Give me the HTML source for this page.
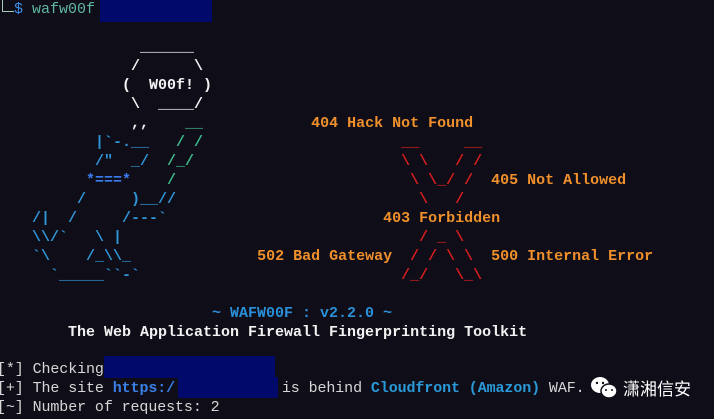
<!DOCTYPE html>
<html><head><meta charset="utf-8"><style>
html,body{margin:0;padding:0;background:#0f0d17;width:714px;height:419px;overflow:hidden;position:relative}
.t{position:absolute;white-space:pre;font-family:"Liberation Mono","DejaVu Sans Mono",monospace;font-size:15px;line-height:19px;font-weight:bold;margin:0}
.b{color:#2f95d6}.g{color:#3fb88a}.s{color:#3b7cf0}.w{color:#f2f2f2}.r{color:#d81e1e}.o{color:#f0902c}
.n{font-weight:normal;color:#d6d6d6}
.rect{position:absolute;background:#010a6a}
</style></head><body>
<div class="rect" style="left:100px;top:0;width:112px;height:22px"></div>
<div style="position:absolute;left:2px;top:0;width:1px;height:11px;background:#a8c8b8"></div>
<div style="position:absolute;left:2px;top:11px;width:12px;height:1px;background:#a8c8b8"></div>
<div class="t" style="left:14px;top:0px;color:#3b8eea;font-weight:normal">$ <span style="color:#5fb8a0">wafw00f</span></div>
<pre class="t" style="left:5px;top:38px"><span class="w">               ______
              /      \
             (  W00f! )
              \  ____/
              ,,    </span><span class="g">__</span>            <span class="o">404 Hack Not Found</span>
<span class="b">          |`-.__   </span><span class="g">/ /</span>                      <span class="r">__     __</span>
<span class="b">          /"  _/  </span><span class="g">/_/</span>                       <span class="r">\ \   / /</span>
<span class="s">         *===*</span>    <span class="g">/</span>                          <span class="r">\ \_/ /</span>  <span class="o">405 Not Allowed</span>
<span class="b">        /     )__//</span>                           <span class="r">\   /</span>
<span class="b">   /|  /     /---`</span>                        <span class="o">403 Forbidden</span>
<span class="b">   \\/`   \ |</span>                                 <span class="r">/ _ \</span>
<span class="b">   `\    /_\\_</span>              <span class="o">502 Bad Gateway</span>  <span class="r">/ / \ \</span>  <span class="o">500 Internal Error</span>
<span class="b">     `_____``-`</span>                             <span class="r">/_/   \_\</span>

<span style="color:#2a8fd8">                       ~ WAFW00F : v2.2.0 ~</span>
<span class="w">       The Web Application Firewall Fingerprinting Toolkit</span></pre>
<pre class="t n" style="left:-3px;top:360px;letter-spacing:-0.1px">[*] Checking
[+] The site <span style="color:#3a7fe6;font-weight:bold">https:/</span>            is behind <span style="color:#2a9ad8;font-weight:bold">Cloudfront (Amazon)</span> WAF.
[~] Number of requests: 2</pre>
<div class="rect" style="left:104px;top:356px;width:171px;height:22px"></div>
<div class="rect" style="left:178px;top:377px;width:100px;height:21px"></div>
<svg style="position:absolute;left:590px;top:376px" width="30" height="24" viewBox="0 0 30 24">
<ellipse cx="10" cy="9" rx="9" ry="8" fill="#fff"/>
<ellipse cx="19" cy="15" rx="8" ry="7" fill="#fff" stroke="#0f0d17" stroke-width="1.5"/>
<circle cx="7" cy="7" r="1.2" fill="#0f0d17"/><circle cx="13" cy="7" r="1.2" fill="#0f0d17"/>
<circle cx="16" cy="14" r="1" fill="#0f0d17"/><circle cx="22" cy="14" r="1" fill="#0f0d17"/>
</svg>
<div style="position:absolute;left:623px;top:377px;font-family:'Noto Sans CJK SC',sans-serif;font-size:17px;line-height:22px;color:#fff">潇湘信安</div>
</body></html>
